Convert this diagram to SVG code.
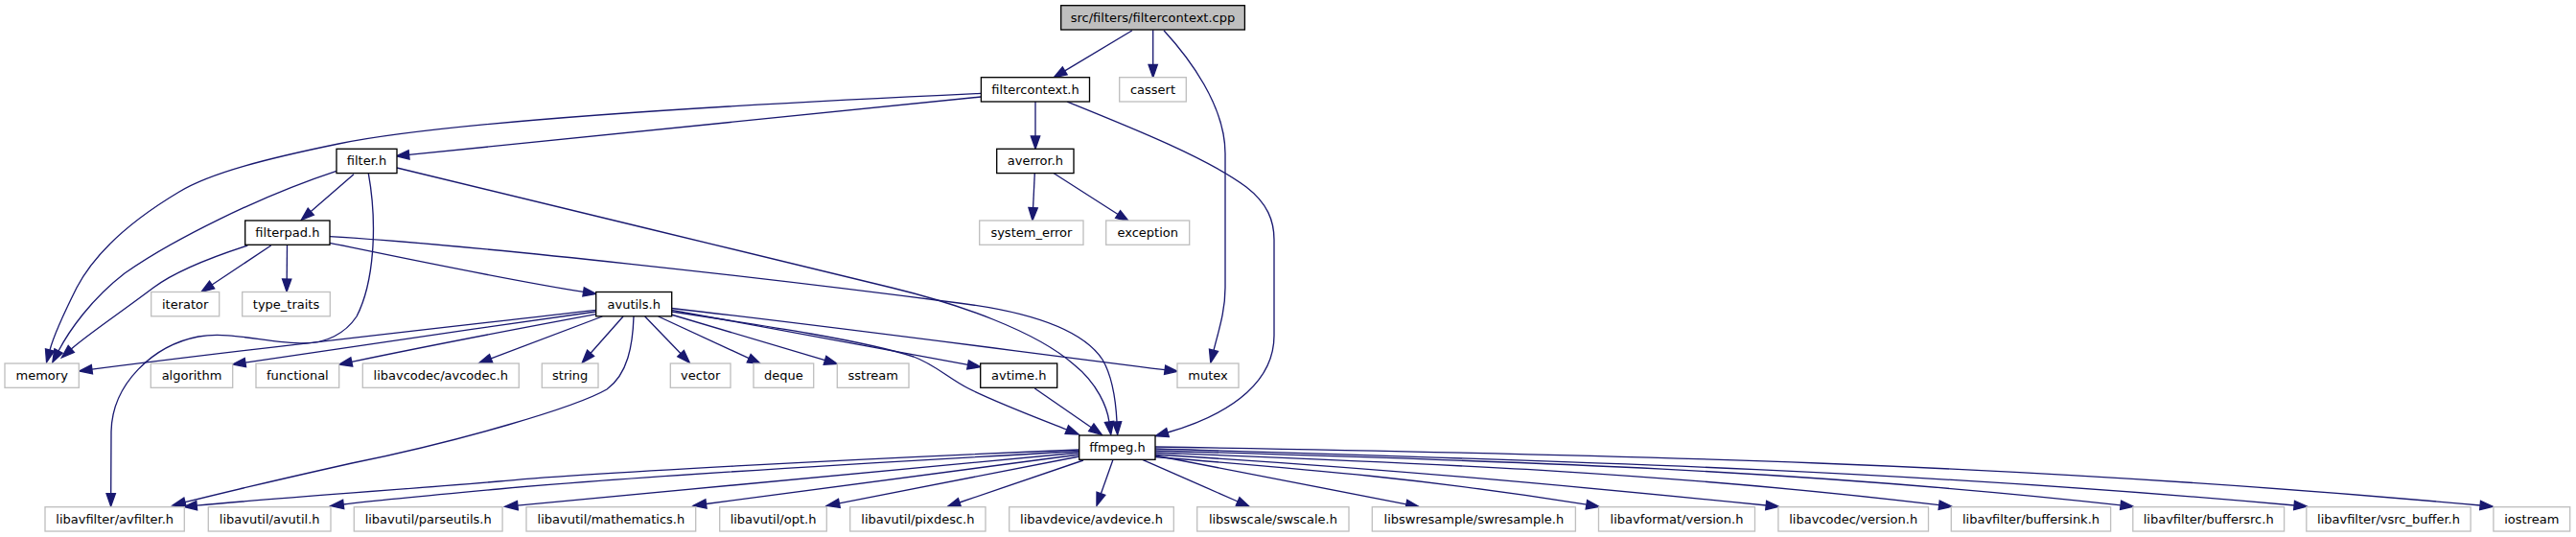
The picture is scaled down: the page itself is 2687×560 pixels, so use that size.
<svg xmlns="http://www.w3.org/2000/svg" width="2687" height="560" viewBox="0 0 2687 560">
<style>
.n rect{fill:#ffffff;stroke:#000000;stroke-width:1.33}
.x rect{stroke:#bfbfbf}
.r rect{fill:#bfbfbf}
text{font-family:"DejaVu Sans",sans-serif;font-size:13px;text-anchor:middle;fill:#000000}
.e path{fill:none;stroke:#191970;stroke-width:1.33;marker-end:url(#ah)}
</style>
<defs>
<marker id="ah" markerUnits="userSpaceOnUse" markerWidth="16" markerHeight="12" viewBox="-1 -6 16 12" refX="0" refY="0" orient="auto" overflow="visible">
<path d="M0,-4.67 L13.33,0 L0,4.67 Z" fill="#191970" stroke="#191970" stroke-width="1.33"/>
</marker>
</defs>
<rect x="0" y="0" width="2687" height="560" fill="#ffffff"/>
<g id="edges" class="e">
<path d="M1181,31.7 L1110.7,73.9"/>
<path d="M1202.7,31.3 L1202.7,67.4"/>
<path d="M1214,31.7 C1240,60 1278,110 1278,160 L1278,300 C1278,325 1271,345 1266,365.3"/>
<path d="M1023.3,97.3 C700,112 450,130 353,150 C280,165 220,180 187,200 C140,228 100,262 80,300 C65,330 56,350 52,365"/>
<path d="M1023.3,101 C800,123 600,144 426.6,161.4"/>
<path d="M1080,106 L1080,142"/>
<path d="M1113,106 C1180,133 1260,165 1300,195 C1322,212 1329,230 1329,250 L1329,350 C1329,395 1290,430 1218,451"/>
<path d="M351,178.3 C270,205 180,250 130,285 C95,312 72,345 61,366"/>
<path d="M369,181.7 L324.3,220.6"/>
<path d="M384.3,180.7 C394,235 390,295 372,330 C360,348 340,358 317,358 C280,358 240,345 207,351 C160,360 117,400 116,450 L115.7,514.7"/>
<path d="M414,175 C586,217 758,258 930,300 C1000,317 1080,345 1120,380 C1145,400 1155,425 1157,440"/>
<path d="M258.3,256 C215,270 180,285 160,300 C120,330 90,350 74.3,364"/>
<path d="M282.7,256 L221.1,297"/>
<path d="M299.5,256 L299.2,291"/>
<path d="M344,253.3 C430,271 530,292 608.6,304.4"/>
<path d="M344,246.7 C500,256 800,290 1000,316 C1080,326 1130,345 1150,375 C1160,392 1164,420 1165,440"/>
<path d="M1079.3,180.7 L1077.6,216.7"/>
<path d="M1099.3,180.7 L1166.1,223.5"/>
<path d="M621.7,323.3 C450,343 250,365 95.9,385.2"/>
<path d="M621.7,325 C500,342 350,364 255.9,378.1"/>
<path d="M621.7,327.7 C550,341 450,360 366.8,377.4"/>
<path d="M628.3,330 L512.2,373.9"/>
<path d="M650,330 L616.1,368.3"/>
<path d="M672.7,330 L710.1,368.7"/>
<path d="M686.7,330 L781.2,373.7"/>
<path d="M700,328 L860.5,375.7"/>
<path d="M700.7,323.3 L1009.6,380.3"/>
<path d="M700.7,321.5 C880,342 1050,365 1215.1,385.7"/>
<path d="M700.7,325 C800,340 900,355 953,372 C975,380 990,395 1010,405 C1040,420 1080,435 1112.8,448"/>
<path d="M661,330 C660,360 655,390 633,406 C600,425 480,460 367,483 C300,498 240,512 193,523.7"/>
<path d="M1079.3,405 L1138.3,445.7"/>
<path d="M1125.7,469 C900,478 600,494 520,502 C400,512 280,520 205.2,527.2"/>
<path d="M1125.7,470.5 C900,483 650,498 520,510 C460,515.5 400,521 358.2,526"/>
<path d="M1125.7,472 L539.9,527.1"/>
<path d="M1125.7,474 L736.5,525.5"/>
<path d="M1125.7,476 L875.4,524.8"/>
<path d="M1130,480 L1000.9,524"/>
<path d="M1161,479.3 L1148.4,514.8"/>
<path d="M1191.7,479.3 L1291.1,523"/>
<path d="M1205,475 L1466.9,525.8"/>
<path d="M1205,476.5 C1367,489.5 1495,500.3 1654.9,526.2"/>
<path d="M1205,474 C1428,487.4 1619,504.7 1842.2,527"/>
<path d="M1205,472 C1491,483.4 1737,492.4 2022.7,526.7"/>
<path d="M1205,470 C1557,480.6 1860,488.1 2212.1,526.8"/>
<path d="M1205,468 C1621,480.5 1977,489.6 2393.1,527"/>
<path d="M1205,466 C1689,474 2103,483 2587.1,527"/>
</g>
<g id="node_root" class="n r"><rect x="1106.7" y="5.7" width="191.7" height="25.3"/><text x="1202.5" y="22.7">src/filters/filtercontext.cpp</text></g>
<g id="node_filtercontext_h" class="n"><rect x="1023.4" y="80.7" width="113.1" height="25.3"/><text x="1080" y="97.7">filtercontext.h</text></g>
<g id="node_cassert" class="n x"><rect x="1167.7" y="80.7" width="69.6" height="25.3"/><text x="1202.5" y="97.7">cassert</text></g>
<g id="node_filter_h" class="n"><rect x="351" y="155.3" width="63" height="25.3"/><text x="382.5" y="172.3">filter.h</text></g>
<g id="node_averror_h" class="n"><rect x="1039.7" y="155.3" width="80.3" height="25.3"/><text x="1079.9" y="172.3">averror.h</text></g>
<g id="node_filterpad_h" class="n"><rect x="255.7" y="230" width="88.3" height="25.3"/><text x="299.9" y="247">filterpad.h</text></g>
<g id="node_system_error" class="n x"><rect x="1021.7" y="230" width="108.3" height="25.3"/><text x="1075.9" y="247">system_error</text></g>
<g id="node_exception" class="n x"><rect x="1153.7" y="230" width="87" height="25.3"/><text x="1197.2" y="247">exception</text></g>
<g id="node_iterator" class="n x"><rect x="157.7" y="304.5" width="71" height="25.3"/><text x="193.2" y="321.5">iterator</text></g>
<g id="node_type_traits" class="n x"><rect x="252.7" y="304.5" width="91.6" height="25.3"/><text x="298.5" y="321.5">type_traits</text></g>
<g id="node_avutils_h" class="n"><rect x="621.7" y="304.5" width="79" height="25.3"/><text x="661.2" y="321.5">avutils.h</text></g>
<g id="node_memory" class="n x"><rect x="5" y="379" width="77.3" height="25.3"/><text x="43.7" y="396">memory</text></g>
<g id="node_algorithm" class="n x"><rect x="157.3" y="379" width="85.4" height="25.3"/><text x="200" y="396">algorithm</text></g>
<g id="node_functional" class="n x"><rect x="267" y="379" width="86.7" height="25.3"/><text x="310.4" y="396">functional</text></g>
<g id="node_avcodec_h" class="n x"><rect x="378.3" y="379" width="163" height="25.3"/><text x="459.8" y="396">libavcodec/avcodec.h</text></g>
<g id="node_string" class="n x"><rect x="565.3" y="379" width="58.7" height="25.3"/><text x="594.7" y="396">string</text></g>
<g id="node_vector" class="n x"><rect x="699.3" y="379" width="62.7" height="25.3"/><text x="730.7" y="396">vector</text></g>
<g id="node_deque" class="n x"><rect x="786" y="379" width="62.7" height="25.3"/><text x="817.4" y="396">deque</text></g>
<g id="node_sstream" class="n x"><rect x="873.3" y="379" width="74.7" height="25.3"/><text x="910.7" y="396">sstream</text></g>
<g id="node_avtime_h" class="n"><rect x="1022.7" y="379" width="80" height="25.3"/><text x="1062.7" y="396">avtime.h</text></g>
<g id="node_mutex" class="n x"><rect x="1228" y="379" width="64" height="25.3"/><text x="1260" y="396">mutex</text></g>
<g id="node_ffmpeg_h" class="n"><rect x="1125.7" y="454" width="79.3" height="25.3"/><text x="1165.4" y="471">ffmpeg.h</text></g>
<g id="node_avfilter_h" class="n x"><rect x="47" y="528.7" width="145.3" height="25.3"/><text x="119.7" y="545.7">libavfilter/avfilter.h</text></g>
<g id="node_avutil_h" class="n x"><rect x="217.3" y="528.7" width="127.7" height="25.3"/><text x="281.2" y="545.7">libavutil/avutil.h</text></g>
<g id="node_parseutils_h" class="n x"><rect x="369.3" y="528.7" width="154.8" height="25.3"/><text x="446.7" y="545.7">libavutil/parseutils.h</text></g>
<g id="node_mathematics_h" class="n x"><rect x="549" y="528.7" width="176.7" height="25.3"/><text x="637.4" y="545.7">libavutil/mathematics.h</text></g>
<g id="node_opt_h" class="n x"><rect x="750.7" y="528.7" width="111.6" height="25.3"/><text x="806.5" y="545.7">libavutil/opt.h</text></g>
<g id="node_pixdesc_h" class="n x"><rect x="886.7" y="528.7" width="141.3" height="25.3"/><text x="957.4" y="545.7">libavutil/pixdesc.h</text></g>
<g id="node_avdevice_h" class="n x"><rect x="1052.7" y="528.7" width="171.6" height="25.3"/><text x="1138.5" y="545.7">libavdevice/avdevice.h</text></g>
<g id="node_swscale_h" class="n x"><rect x="1248.7" y="528.7" width="158.3" height="25.3"/><text x="1327.9" y="545.7">libswscale/swscale.h</text></g>
<g id="node_swresample_h" class="n x"><rect x="1431.3" y="528.7" width="212.1" height="25.3"/><text x="1537.4" y="545.7">libswresample/swresample.h</text></g>
<g id="node_avformat_version_h" class="n x"><rect x="1667.5" y="528.7" width="163" height="25.3"/><text x="1749" y="545.7">libavformat/version.h</text></g>
<g id="node_avcodec_version_h" class="n x"><rect x="1854.9" y="528.7" width="156.6" height="25.3"/><text x="1933.2" y="545.7">libavcodec/version.h</text></g>
<g id="node_buffersink_h" class="n x"><rect x="2035.3" y="528.7" width="166.3" height="25.3"/><text x="2118.5" y="545.7">libavfilter/buffersink.h</text></g>
<g id="node_buffersrc_h" class="n x"><rect x="2224.8" y="528.7" width="157.8" height="25.3"/><text x="2303.7" y="545.7">libavfilter/buffersrc.h</text></g>
<g id="node_vsrc_buffer_h" class="n x"><rect x="2405.8" y="528.7" width="171.3" height="25.3"/><text x="2491.5" y="545.7">libavfilter/vsrc_buffer.h</text></g>
<g id="node_iostream" class="n x"><rect x="2600.9" y="528.7" width="79.8" height="25.3"/><text x="2640.8" y="545.7">iostream</text></g>
</svg>
